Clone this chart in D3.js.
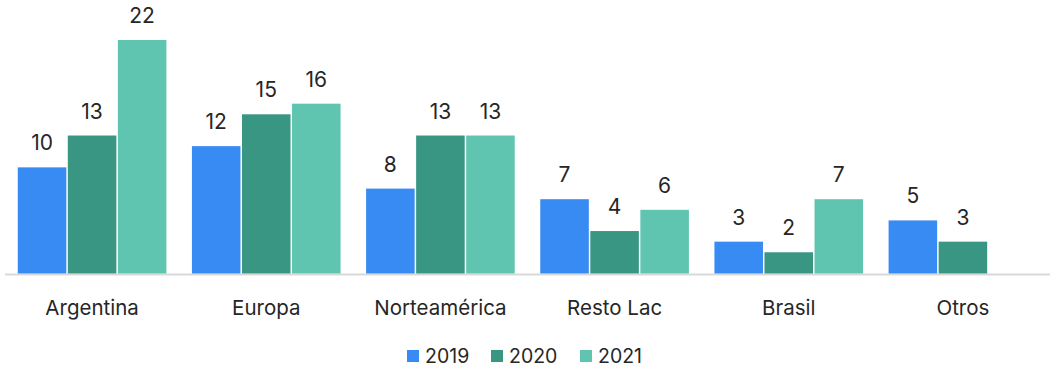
<!DOCTYPE html>
<html>
<head>
<meta charset="utf-8">
<script src="https://cdn.jsdelivr.net/npm/d3@7"></script>
<style>
  html, body { margin: 0; padding: 0; background: #fff; }
  svg { display: block; font-family: Inter, "Noto Sans", sans-serif; }
</style>
</head>
<body>
<svg id="chart" width="1050" height="367"></svg>
<script>
const categories = ["Argentina", "Europa", "Norteamérica", "Resto Lac", "Brasil", "Otros"];
const seriesNames = ["2019", "2020", "2021"];
const values2019 = [10, 12, 8, 7, 3, 5];
const values2020 = [13, 15, 13, 4, 2, 3];
const values2021 = [22, 16, 13, 6, 7, null];
const seriesColors = ["#388bf2", "#389683", "#5fc5b0"];

const seriesValues = [values2019, values2020, values2021];
const rows = categories.map((c, i) => ({
  category: c,
  bars: seriesNames.map((s, j) => ({ series: s, value: seriesValues[j][i], color: seriesColors[j] }))
}));

const svg = d3.select("#chart");
const baseline = 273.5;

const x0 = d3.scaleBand()
  .domain(categories)
  .range([5, 1050])
  .paddingInner(0.138)
  .paddingOuter(0.069);

const x1 = d3.scaleBand()
  .domain(seriesNames)
  .range([0, x0.bandwidth()])
  .padding(0);

const y = d3.scaleLinear()
  .domain([0, 22])
  .range([baseline, 40]);

// baseline axis rule
svg.append("line")
  .attr("x1", 5).attr("x2", 1050)
  .attr("y1", baseline + 1).attr("y2", baseline + 1)
  .attr("stroke", "#d9d9d9")
  .attr("stroke-width", 2);

const groups = svg.selectAll("g.group")
  .data(rows)
  .join("g")
  .attr("class", "group")
  .attr("transform", d => `translate(${x0(d.category)},0)`);

const bars = groups.selectAll("g.bar")
  .data(d => d.bars.filter(b => b.value != null))
  .join("g")
  .attr("class", "bar");

bars.append("rect")
  .attr("x", d => x1(d.series) + 0.75)
  .attr("width", x1.bandwidth() - 1.5)
  .attr("y", d => y(d.value))
  .attr("height", d => baseline - y(d.value))
  .attr("fill", d => d.color);

bars.append("text")
  .attr("x", d => x1(d.series) + x1.bandwidth() / 2)
  .attr("y", d => y(d.value) - 17)
  .attr("text-anchor", "middle")
  .attr("font-size", 21)
  .attr("fill", "#262626")
  .text(d => d.value);

// category labels
const xAxis = d3.axisBottom(x0).tickSize(0).tickPadding(0);
const axisG = svg.append("g")
  .attr("transform", `translate(0,${baseline})`)
  .call(xAxis);
axisG.select(".domain").remove();
axisG.selectAll("text")
  .attr("dy", 0)
  .attr("y", 41.5)
  .attr("font-size", 20.5)
  .attr("font-family", "Inter, 'Noto Sans', sans-serif")
  .attr("fill", "#262626");

// legend
const legendX = [407, 491, 580];
const legend = svg.selectAll("g.legend")
  .data(seriesNames)
  .join("g")
  .attr("class", "legend")
  .attr("transform", (d, i) => `translate(${legendX[i]},350)`);
legend.append("rect")
  .attr("width", 12).attr("height", 12)
  .attr("fill", (d, i) => seriesColors[i]);
legend.append("text")
  .attr("x", 18)
  .attr("y", 12.5)
  .attr("font-size", 19.5)
  .attr("fill", "#262626")
  .text(d => d);
</script>
</body>
</html>
